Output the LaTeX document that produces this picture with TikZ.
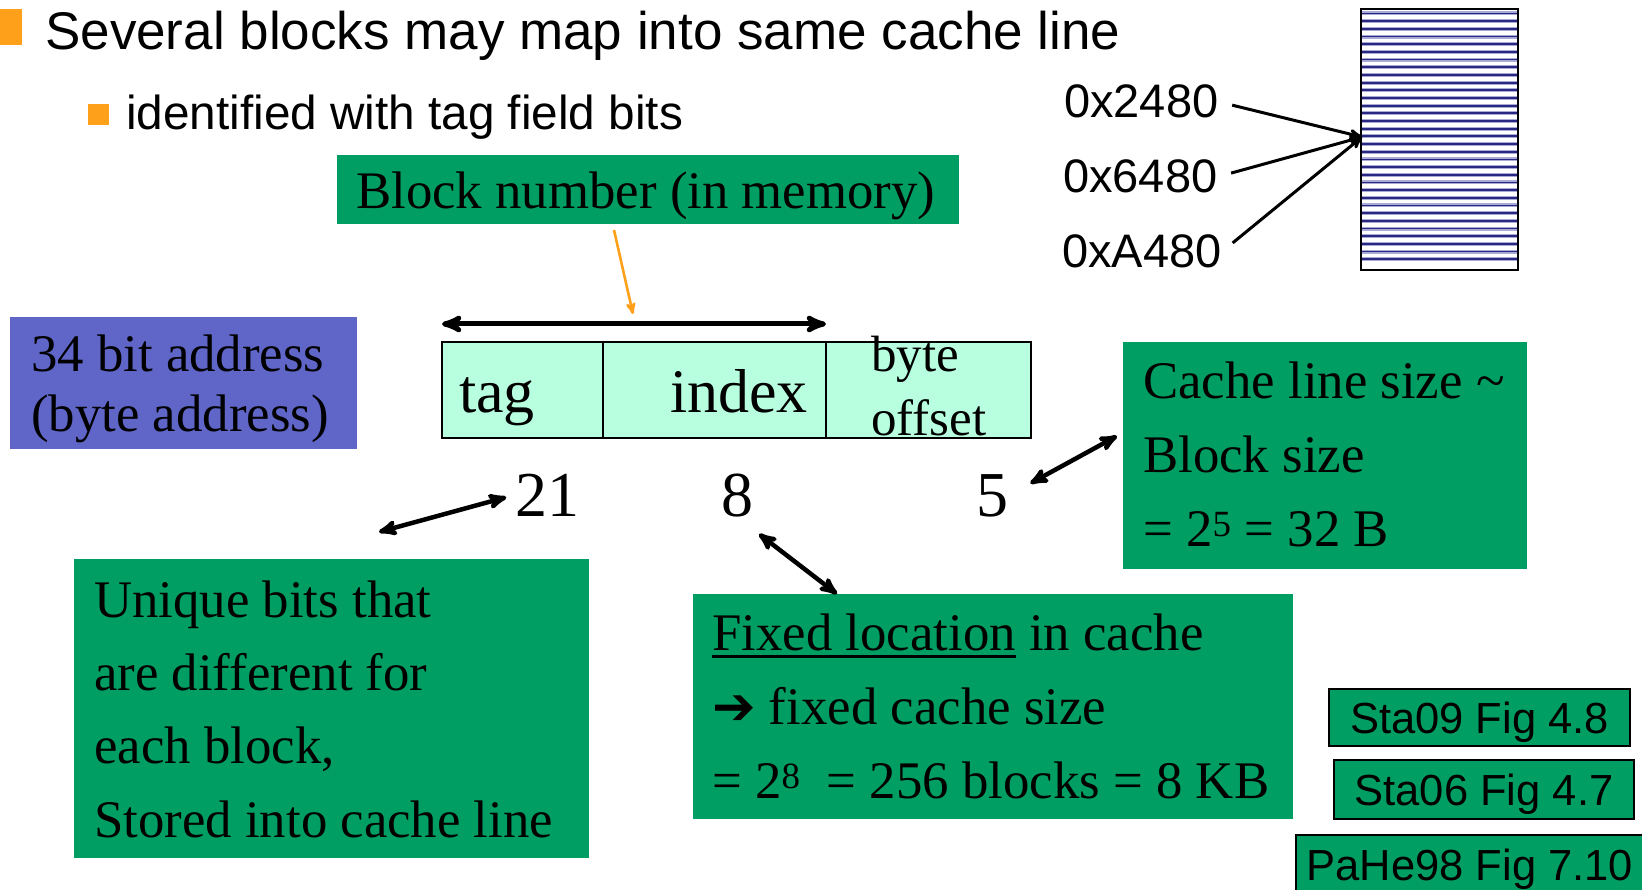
\documentclass[tikz,border=0pt]{standalone}
\usepackage{fontspec}
\setmainfont{Liberation Serif}
\setsansfont{Liberation Sans}
\newfontfamily\arrowfont{DejaVu Sans}
\usepackage{tikz}
\usetikzlibrary{arrows}
\definecolor{slidegreen}{RGB}{0,158,98}
\definecolor{addrblue}{RGB}{95,102,200}
\definecolor{fieldmint}{RGB}{184,255,224}
\definecolor{bulletorange}{RGB}{255,160,26}
\definecolor{memnavy}{RGB}{40,40,130}
\definecolor{memhalo}{RGB}{170,170,215}
\newcommand{\fsz}[2]{\fontsize{#1}{#2}\selectfont}
\newcommand{\ulbar}[1]{\setbox0=\hbox{#1}\rlap{\rule[-8pt]{\wd0}{3pt}}\box0\relax}

\begin{document}
\begin{tikzpicture}[x=1pt,y=-1pt,>=stealth',
  txt/.style={anchor=base west,inner sep=0pt,align=left},
  greenbox/.style={fill=slidegreen,anchor=north west,inner sep=0pt,outer sep=0pt},
  field/.style={draw,fill=fieldmint,line width=2.5pt,anchor=north west,inner sep=0pt,outer sep=0pt,minimum height=96pt},
  figbox/.style={draw,line width=1.5pt,fill=slidegreen,anchor=north west,inner sep=0pt,outer sep=0pt,
    font=\sffamily\fsz{43.5}{50},text height=31.2pt,text depth=0pt},
  link/.style={<->,line width=4.5pt},
  hexarrow/.style={->,line width=3pt,shorten <=14pt}]
\useasboundingbox (0,0) rectangle (1642,890);
\clip (0,0) rectangle (1642,890);

% bullets
\fill[bulletorange] (0,9) rectangle (22,45);
\fill[bulletorange] (88,104) rectangle (109,125);
\node[txt,font=\sffamily\fsz{53}{60}] (title) at (45,50) {Several blocks may map into same cache line};
\node[txt,font=\sffamily\fsz{47.7}{56}] (subtitle) at (126,130) {identified with tag field bits};

% memory with the cache line
\node[draw,line width=2pt,fill=white,anchor=north west,inner sep=0pt,outer sep=0pt,
  minimum width=157pt,minimum height=261pt] (mem) at (1361,9) {};
\foreach \k in {0,...,32}{
  \draw[memhalo,line width=4pt] ([yshift=-4.5pt-\k*7.68pt]mem.north west) -- ([yshift=-4.5pt-\k*7.68pt]mem.north east);
  \draw[memnavy,line width=1.8pt] ([yshift=-4.5pt-\k*7.68pt]mem.north west) -- ([yshift=-4.5pt-\k*7.68pt]mem.north east);
}
\draw[line width=2pt] (mem.north west) rectangle (mem.south east);
\coordinate (memhit) at (1362,137);

\node[txt,font=\sffamily\fsz{47}{56}] (h2480) at (1064,118) {0x2480};
\node[txt,font=\sffamily\fsz{47}{56}] (h6480) at (1063,193) {0x6480};
\node[txt,font=\sffamily\fsz{47}{56}] (hA480) at (1062,268) {0xA480};
\draw[hexarrow] (h2480.east) -- (memhit);
\draw[hexarrow] (h6480.east) -- (memhit);
\draw[hexarrow] (hA480.east) -- (memhit);

% block number
\node[greenbox,minimum width=622pt,minimum height=69pt] (blocknum) at (337,155) {};
\node[txt,font=\fsz{52.8}{60}] (blocktxt) at (356,209) {Block number (in memory)};

% address fields
\node[greenbox,fill=addrblue,minimum width=347pt,minimum height=132pt] (addrbox) at (10,317) {};
\node[txt,font=\fsz{52.8}{60}] (addrtxt) at (31,432) {34 bit address\\(byte address)};

\node[field,minimum width=161pt] (tagf) at (442,342) {};
\node[field,minimum width=223pt] (idxf) at (tagf.north east) {};
\node[field,minimum width=205pt] (offf) at (idxf.north east) {};
\node[txt,font=\fsz{62}{70}] (tagtxt) at (459,413) {tag};
\node[txt,font=\fsz{62}{70}] (idxtxt) at (670,413) {index};
\node[txt,font=\fsz{51}{64}] (offtxt) at (871,436) {byte\\offset};

\coordinate (blockhit) at (633,314);
\draw[->,bulletorange,line width=2.6pt] ([xshift=277pt,yshift=-6pt]blocknum.south west) -- (blockhit);
\draw[<->,line width=5pt] ([yshift=18pt]tagf.north west) -- ([yshift=18pt]idxf.north east);

% bit counts
\node[txt,font=\fsz{64}{70}] (n21) at (515,516) {21};
\node[txt,font=\fsz{64}{70}] (n8) at (721,516) {8};
\node[txt,font=\fsz{64}{70}] (n5) at (976,516) {5};

% explanations
\node[greenbox,minimum width=515pt,minimum height=299pt] (uniqbox) at (74,559) {};
\node[txt,font=\fsz{52.8}{73.3}] (uniqtxt) at (94,837)
  {Unique bits that\\are different for\\each block,\\Stored into cache line};

\node[greenbox,minimum width=600pt,minimum height=225pt] (fixbox) at (693,594) {};
\node[txt,font=\fsz{52.8}{74}] (fixtxt) at (712,798)
  {\ulbar{Fixed location} in cache\\{\arrowfont\fsz{52}{52}➔} fixed cache size\\= 2\textsuperscript{8}\ \ = 256 blocks = 8 KB};

\node[greenbox,minimum width=404pt,minimum height=227pt] (cachebox) at (1123,342) {};
\node[txt,font=\fsz{52.8}{74}] (cachetxt) at (1143,546)
  {Cache line size \textasciitilde\\Block size\\= 2\textsuperscript{5} = 32 B};

\coordinate (tagend) at (379,532);
\coordinate (idxend) at (759,534);
\draw[link,shorten >=9pt] (tagend) -- (n21.west);
\draw[link] (idxend) -- ([xshift=144pt]fixbox.north west);
\draw[link,shorten <=25pt] (n5.east) -- ([xshift=-6pt,yshift=-94pt]cachebox.north west);

% sources
\node[figbox,minimum width=301pt,minimum height=57pt] (sta09) at (1329,689) {Sta09 Fig 4.8};
\node[figbox,minimum width=300pt,minimum height=59pt] (sta06) at (1334,760) {Sta06 Fig 4.7};
\node[figbox,minimum width=348pt,minimum height=60pt] (pahe98) at (1296,835) {PaHe98 Fig 7.10};
\end{tikzpicture}
\end{document}
